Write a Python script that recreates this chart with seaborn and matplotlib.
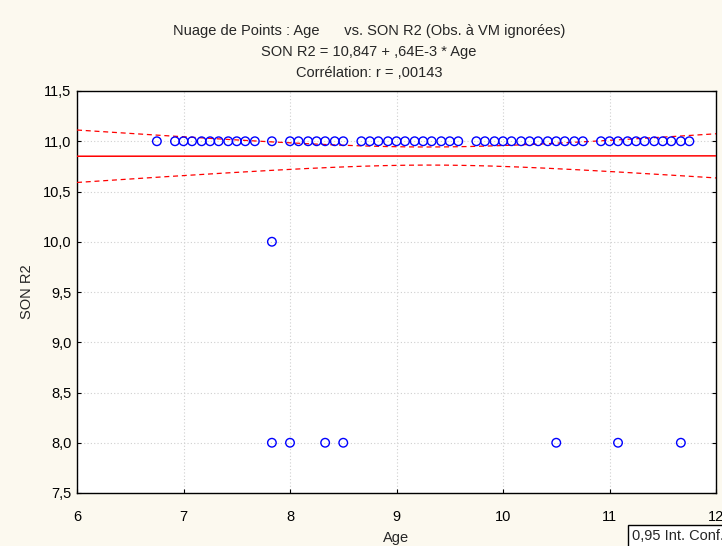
import numpy as np
import pandas as pd
import matplotlib
matplotlib.use("Agg")
import matplotlib.pyplot as plt
from matplotlib.ticker import FuncFormatter, FixedLocator
import seaborn as sns

# ---- data ----
age_at_11 = [6.75, 6.92, 7.00, 7.08, 7.17, 7.25, 7.33, 7.42, 7.50, 7.58, 7.67,
             7.83, 8.00, 8.08, 8.17, 8.25, 8.33, 8.42, 8.50, 8.67, 8.75, 8.83,
             8.92, 9.00, 9.08, 9.17, 9.25, 9.33, 9.42, 9.50, 9.58, 9.75, 9.83,
             9.92, 10.00, 10.08, 10.17, 10.25, 10.33, 10.42, 10.50, 10.58,
             10.67, 10.75, 10.92, 11.00, 11.08, 11.17, 11.25, 11.33, 11.42,
             11.50, 11.58, 11.67, 11.75]
age_at_10 = [7.83]
age_at_8 = [7.83, 8.00, 8.33, 8.50, 10.50, 11.08, 11.67]

intercept = 10.847
slope = 0.00064
ci_half_min = 0.09      # half-width of the 0.95 band at its narrowest
ci_center_age = 9.3     # age where the band is narrowest
ci_spread = 1.47        # controls how fast the band widens

x_ticks = [6, 7, 8, 9, 10, 11, 12]
y_ticks = [7.5, 8.0, 8.5, 9.0, 9.5, 10.0, 10.5, 11.0, 11.5]

title_lines = ["Nuage de Points : Age      vs. SON R2 (Obs. à VM ignorées)",
               "SON R2 = 10,847 + ,64E-3 * Age",
               "Corrélation: r = ,00143"]

df = pd.DataFrame({
    "Age": age_at_11 + age_at_10 + age_at_8,
    "SON R2": [11.0] * len(age_at_11) + [10.0] * len(age_at_10) + [8.0] * len(age_at_8),
})

xs = np.linspace(6, 12, 200)
fit = intercept + slope * xs
half = ci_half_min * np.sqrt(1 + (xs - ci_center_age) ** 2 / ci_spread)
line_df = pd.DataFrame({"Age": xs, "fit": fit, "lo": fit - half, "hi": fit + half})

# ---- figure ----
sns.set_theme(style="white")
plt.rcParams["font.family"] = ["Liberation Sans", "DejaVu Sans"]
fs = 10.5
bg = "#FCF9EF"
fig = plt.figure(figsize=(7.22, 5.46), dpi=100, facecolor=bg)
ax = fig.add_axes([77 / 722, 1 - 493 / 546, (716 - 77) / 722, (493 - 91) / 546])
ax.set_facecolor("white")

sns.lineplot(data=line_df, x="Age", y="fit", ax=ax, color="#FF0000", lw=1.1, zorder=3)
sns.lineplot(data=line_df, x="Age", y="lo", ax=ax, color="#FF0000", lw=0.9,
             linestyle=(0, (4, 3)), zorder=3)
sns.lineplot(data=line_df, x="Age", y="hi", ax=ax, color="#FF0000", lw=0.9,
             linestyle=(0, (4, 3)), zorder=3)
sns.scatterplot(data=df, x="Age", y="SON R2", ax=ax, marker="o", s=38,
                facecolor="none", edgecolor="#0000FF", linewidth=1.0, zorder=4)

ax.set_xlim(6, 12)
ax.set_ylim(7.5, 11.5)
ax.xaxis.set_major_locator(FixedLocator(x_ticks))
ax.yaxis.set_major_locator(FixedLocator(y_ticks))
ax.xaxis.set_major_formatter(FuncFormatter(lambda v, p: f"{v:.0f}"))
ax.yaxis.set_major_formatter(FuncFormatter(lambda v, p: f"{v:.1f}".replace(".", ",")))
ax.grid(True, color="#CFCFCF", linestyle=(0, (1, 2)), linewidth=0.8)
ax.tick_params(axis="both", labelsize=fs, colors="black", direction="in",
               length=3, width=0.8, right=True, top=False, left=True, bottom=True)
ax.tick_params(axis="x", pad=12)
ax.tick_params(axis="y", pad=4)
for side in ax.spines.values():
    side.set_color("black")
    side.set_linewidth(1.0)
ax.set_xlabel("Age", fontsize=fs, va="center")
ax.xaxis.set_label_coords(0.5, -(538 - 493) / 402)
ax.set_ylabel("SON R2", fontsize=fs, va="center")
ax.yaxis.set_label_coords(-(77 - 27) / 639, 0.5)

for i, t in enumerate(title_lines):
    fig.text(369 / 722, 1 - (31 + 21 * i) / 546, t, ha="center", va="center", fontsize=fs)

fig.text(632 / 722, 1 - 536 / 546, "0,95 Int. Conf.", ha="left", va="center", fontsize=fs,
         bbox=dict(boxstyle="square,pad=0.25", facecolor="white", edgecolor="black", lw=1.0))

fig.savefig("out.png", dpi=100, facecolor=bg)
